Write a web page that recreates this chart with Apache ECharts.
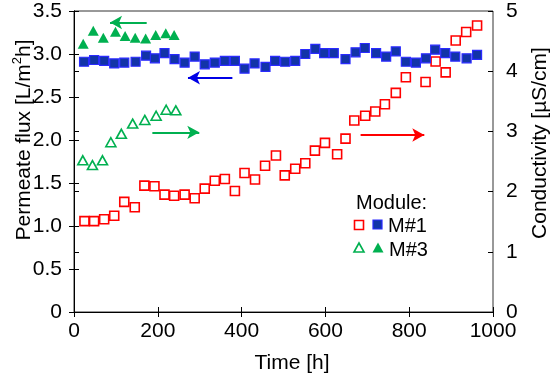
<!DOCTYPE html>
<html>
<head>
<meta charset="utf-8">
<script src="https://cdn.jsdelivr.net/npm/echarts@6/dist/echarts.min.js"></script>
<style>html,body{margin:0;padding:0;background:#fff}#c{width:550px;height:376px}</style>
</head>
<body>
<div id="c"></div>
<script>
// Permeate flux, Module M#1 (left axis)
const fluxM1Time = [24, 48, 72, 96, 120, 147, 172, 193, 216, 240, 264, 288, 312, 336, 360, 384, 407, 431, 457, 480, 504, 528, 552, 576, 597, 620, 648, 672, 694, 721, 745, 768, 792, 816, 840, 862, 886, 910, 937, 962];
const fluxM1 = [2.91, 2.93, 2.92, 2.89, 2.90, 2.91, 2.98, 2.95, 3.01, 2.94, 2.90, 2.97, 2.88, 2.90, 2.92, 2.92, 2.83, 2.89, 2.85, 2.92, 2.91, 2.92, 3.00, 3.06, 3.01, 3.01, 2.94, 3.02, 3.07, 3.01, 2.97, 3.03, 2.91, 2.90, 2.95, 3.05, 3.01, 2.97, 2.95, 2.99];
// Permeate flux, Module M#3 (left axis)
const fluxM3Time = [22, 46, 70, 99, 122, 146, 171, 195, 219, 239];
const fluxM3 = [3.12, 3.27, 3.19, 3.26, 3.21, 3.19, 3.18, 3.22, 3.24, 3.22];
// Conductivity, Module M#1 (right axis)
const condM1Time = [25, 48, 72, 96, 120, 145, 168, 192, 216, 239, 264, 288, 312, 336, 360, 384, 407, 432, 456, 482, 503, 528, 552, 575, 599, 628, 648, 669, 695, 719, 742, 768, 792, 839, 863, 887, 911, 936, 962];
const condM1 = [1.51, 1.51, 1.54, 1.60, 1.83, 1.74, 2.10, 2.09, 1.95, 1.93, 1.95, 1.89, 2.05, 2.18, 2.21, 2.01, 2.31, 2.20, 2.43, 2.60, 2.27, 2.38, 2.47, 2.68, 2.81, 2.62, 2.88, 3.18, 3.26, 3.33, 3.45, 3.64, 3.90, 3.82, 4.16, 3.98, 4.51, 4.65, 4.76];
// Conductivity, Module M#3 (right axis)
const condM3Time = [21, 44, 68, 88, 113, 140, 169, 196, 220, 243];
const condM3 = [2.52, 2.44, 2.52, 2.82, 2.96, 3.13, 3.19, 3.26, 3.36, 3.35];

const xTicks = {min: 0, max: 1000, interval: 200};
const fluxTicks = {min: 0, max: 3.5, interval: 0.5};
const condTicks = {min: 0, max: 5, interval: 1};

const FONT = 'Arial, "Liberation Sans", sans-serif';
const RED = '#ff0000', BLUE_FILL = '#1234a8', BLUE_EDGE = '#2a2aff', GREEN = '#00b050';

const zip = (a, b) => a.map((v, i) => [v, b[i]]);

function arrowLine(color, from, to) {
  return {
    silent: true, animation: false,
    symbol: ['none', 'arrow'], symbolSize: [10, 12],
    label: {show: false},
    lineStyle: {color: color, width: 2, type: 'solid'},
    emphasis: {disabled: true},
    data: [[{coord: from}, {coord: to}]]
  };
}

const chart = echarts.init(document.getElementById('c'), null, {renderer: 'canvas'});
const axisBase = {
  type: 'value',
  splitLine: {show: false},
  axisLine: {show: true, lineStyle: {color: '#000', width: 1}},
  axisTick: {show: true, length: 5, lineStyle: {color: '#000', width: 1}},
  axisLabel: {fontSize: 21, color: '#000', fontFamily: FONT}
};
const innerTicks = {
  type: 'value',
  splitLine: {show: false},
  axisLine: {show: false},
  axisTick: {show: true, inside: true, length: 5, lineStyle: {color: '#000', width: 1}},
  axisLabel: {show: false}
};

chart.setOption({
  animation: false,
  backgroundColor: '#fff',
  grid: {left: 74, right: 57, top: 11, bottom: 64, show: true, borderColor: '#333', borderWidth: 1},
  xAxis: [
    Object.assign({}, axisBase, xTicks, {position: 'bottom', axisLabel: Object.assign({}, axisBase.axisLabel, {margin: 9, formatter: v => String(v)})}),
    Object.assign({}, innerTicks, xTicks, {position: 'bottom'})
  ],
  yAxis: [
    Object.assign({}, axisBase, fluxTicks, {position: 'left', axisLabel: Object.assign({}, axisBase.axisLabel, {margin: 12, formatter: v => v === 0 ? '0' : v.toFixed(1)})}),
    Object.assign({}, axisBase, condTicks, {position: 'right', axisLabel: Object.assign({}, axisBase.axisLabel, {margin: 13, formatter: v => String(v)})}),
    Object.assign({}, innerTicks, fluxTicks, {position: 'left'}),
    Object.assign({}, innerTicks, condTicks, {position: 'right'})
  ],
  series: [
    {
      name: 'M#1 conductivity', type: 'scatter', yAxisIndex: 1,
      symbol: 'rect', symbolSize: 9,
      itemStyle: {color: '#fff', borderColor: RED, borderWidth: 1.6, opacity: 1},
      data: zip(condM1Time, condM1),
      markLine: arrowLine(RED, [684, 2.94], [836, 2.94])
    },
    {
      name: 'M#3 conductivity', type: 'scatter', yAxisIndex: 1,
      symbol: 'triangle', symbolSize: [10, 9],
      itemStyle: {color: '#fff', borderColor: GREEN, borderWidth: 1.6, opacity: 1},
      data: zip(condM3Time, condM3),
      markLine: arrowLine(GREEN, [187, 2.985], [299, 2.985])
    },
    {
      name: 'M#1 flux', type: 'scatter', yAxisIndex: 0,
      symbol: 'rect', symbolSize: 9,
      itemStyle: {color: BLUE_FILL, borderColor: BLUE_EDGE, borderWidth: 1.2, opacity: 1},
      data: zip(fluxM1Time, fluxM1),
      markLine: arrowLine('#0000e6', [378, 2.724], [272, 2.724])
    },
    {
      name: 'M#3 flux', type: 'scatter', yAxisIndex: 0,
      symbol: 'triangle', symbolSize: [11, 10],
      itemStyle: {color: GREEN, opacity: 1},
      data: zip(fluxM3Time, fluxM3),
      markLine: arrowLine(GREEN, [173.5, 3.366], [86, 3.366])
    }
  ],
  graphic: [
    {type: 'text', x: 292, y: 363, style: {text: 'Time [h]', fontSize: 21, fontFamily: FONT, fill: '#000', align: 'center', verticalAlign: 'middle'}},
    {type: 'text', x: 23, y: 140, rotation: Math.PI / 2,
      style: {text: '{a|Permeate flux [L/m}{s|2}{a|h]}', fontFamily: FONT, fill: '#000', align: 'center', verticalAlign: 'middle',
        rich: {a: {fontSize: 21, fontFamily: FONT, lineHeight: 24, verticalAlign: 'bottom'}, s: {fontSize: 13, fontFamily: FONT, lineHeight: 14, verticalAlign: 'top'}}}},
    {type: 'text', x: 540, y: 143, rotation: Math.PI / 2,
      style: {text: 'Conductivity [\u00b5S/cm]', fontSize: 21, fontFamily: FONT, fill: '#000', align: 'center', verticalAlign: 'middle'}},
    // legend
    {type: 'text', x: 356, y: 203, style: {text: 'Module:', fontSize: 20, fontFamily: FONT, fill: '#000', align: 'left', verticalAlign: 'middle'}},
    {type: 'rect', shape: {x: 354.5, y: 220.5, width: 9, height: 9}, style: {fill: '#fff', stroke: RED, lineWidth: 1.6}},
    {type: 'rect', shape: {x: 373, y: 220, width: 9, height: 9}, style: {fill: BLUE_FILL, stroke: BLUE_EDGE, lineWidth: 1.2}},
    {type: 'text', x: 388, y: 226, style: {text: 'M#1', fontSize: 20, fontFamily: FONT, fill: '#000', align: 'left', verticalAlign: 'middle'}},
    {type: 'polygon', shape: {points: [[359, 243], [354, 252], [364, 252]]}, style: {fill: '#fff', stroke: GREEN, lineWidth: 1.6}},
    {type: 'polygon', shape: {points: [[378, 242.5], [372.5, 252.5], [383.5, 252.5]]}, style: {fill: GREEN}},
    {type: 'text', x: 389, y: 250, style: {text: 'M#3', fontSize: 20, fontFamily: FONT, fill: '#000', align: 'left', verticalAlign: 'middle'}}
  ]
});
</script>
</body>
</html>
